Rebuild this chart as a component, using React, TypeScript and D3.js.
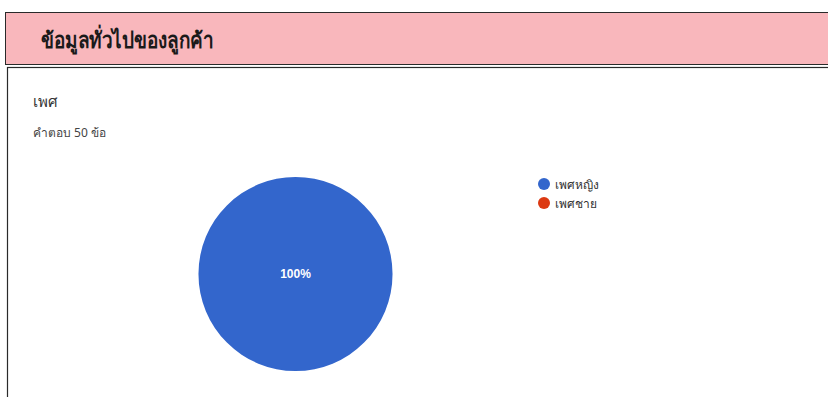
import React from "react";
import * as d3 from "d3";

const categories = ["เพศหญิง", "เพศชาย"];
const values = [50, 0];
const colors = ["#3366cc", "#dc3912"];
const pageTitle = "ข้อมูลทั่วไปของลูกค้า";
const questionTitle = "เพศ";
const responseText = "คำตอบ 50 ข้อ";

export default function App() {
  const W = 828, H = 397;
  const cx = 295.5, cy = 274, r = 97;
  const total = d3.sum(values);
  const pie = d3.pie<number>().sort(null).value((d) => d)(values);
  const arc = d3.arc<d3.PieArcDatum<number>>().innerRadius(0).outerRadius(r);
  const color = d3.scaleOrdinal<string, string>().domain(categories).range(colors);
  const legendY = d3.scalePoint<string>().domain(categories).range([184, 203]);
  const fmt = d3.format(".0%");

  return (
    <svg width={W} height={H} style={{ position: "absolute", left: 0, top: 0, background: "#fff" }}
      fontFamily="'Noto Sans', Roboto, Arial, sans-serif">
      <rect x={5.5} y={12.5} width={840} height={52} fill="#f9b7bc" stroke="#2a2a2a" strokeWidth={1} />
      <rect x={7.5} y={67.5} width={840} height={340} fill="#fff" stroke="#2a2a2a" strokeWidth={1.2} />
      <text x={41} y={48} fontSize={22} fontWeight="bold" fill="#1a1a1a"
        fontFamily="'Liberation Serif', 'DejaVu Serif', serif" textLength={172} lengthAdjust="spacingAndGlyphs">
        {pageTitle}
      </text>
      <text x={33} y={107} fontSize={15} fill="#333" fontWeight="500">{questionTitle}</text>
      <text x={33} y={137} fontSize={12} fill="#444">{responseText}</text>
      <g transform={`translate(${cx},${cy})`}>
        {pie.map((d, i) =>
          d.value > 0 ? (
            <path key={i} d={arc(d) || ""} fill={color(categories[i])} />
          ) : null
        )}
        {pie.map((d, i) =>
          d.value > 0 ? (
            <text key={"l" + i}
              x={d.value === total ? 0 : arc.centroid(d)[0]}
              y={d.value === total ? 0 : arc.centroid(d)[1]}
              dy="0.35em" textAnchor="middle" fill="#fff" fontSize={12} fontWeight="bold"
              fontFamily="Arial, 'Liberation Sans', sans-serif">
              {fmt(d.value / total)}
            </text>
          ) : null
        )}
      </g>
      {categories.map((c) => (
        <g key={c}>
          <circle cx={544} cy={legendY(c)} r={6} fill={color(c)} />
          <text x={555} y={(legendY(c) || 0) + 4.5} fontSize={12} fill="#333">{c}</text>
        </g>
      ))}
    </svg>
  );
}
